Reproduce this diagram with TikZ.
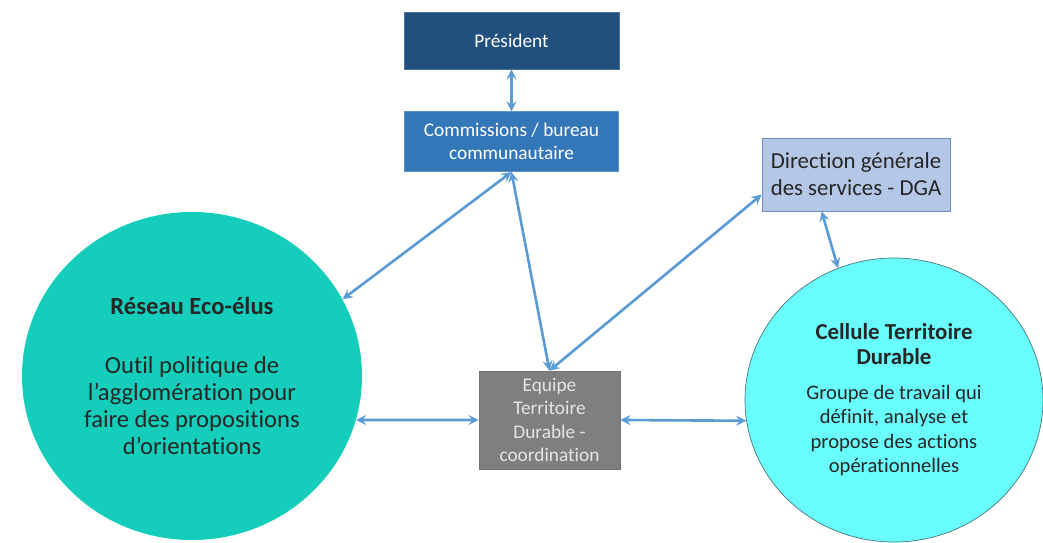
\documentclass[tikz,border=0pt]{standalone}
\usepackage{fontspec}
\setmainfont{Carlito}[Ligatures=NoCommon]
\usetikzlibrary{shapes,arrows,positioning,calc}

\definecolor{presblue}{RGB}{33,80,126}
\definecolor{commblue}{RGB}{52,119,185}
\definecolor{dgablue}{RGB}{180,199,231}
\definecolor{dgaedge}{RGB}{110,140,190}
\definecolor{equipegray}{RGB}{127,127,127}
\definecolor{reseauteal}{RGB}{20,206,187}
\definecolor{cellcyan}{RGB}{104,252,252}
\definecolor{celledge}{RGB}{70,120,125}
\definecolor{linkblue}{RGB}{91,155,213}

\newcommand{\celltitle}[1]{{\fontsize{13}{15}\selectfont\bfseries #1}}

\begin{document}
\begin{tikzpicture}[node distance=2.5cm, auto]

% Define styles
\tikzstyle{presbox} = [rectangle, minimum width=4.3cm, minimum height=1.14cm, text centered, draw=presblue!80!white, fill=presblue, text=white, font=\fontsize{11}{13}\selectfont]
\tikzstyle{commbox} = [rectangle, minimum width=4.28cm, minimum height=1.2cm, align=center, draw=commblue!80!white, fill=commblue, text=white, font=\fontsize{11}{13}\selectfont]
\tikzstyle{dgabox} = [rectangle, minimum width=3.76cm, minimum height=1.46cm, align=center, draw=dgaedge, fill=dgablue, text=black!85, font=\fontsize{13}{15.2}\selectfont]
\tikzstyle{equipebox} = [rectangle, minimum width=2.82cm, minimum height=1.96cm, inner sep=1pt, align=center, draw=equipegray!90!black, fill=equipegray, text=white!90!black, font=\fontsize{11}{13.2}\selectfont]
\tikzstyle{reseaucircle} = [ellipse, minimum width=6.8cm, minimum height=6.56cm, align=center, fill=reseauteal, text=black!85, font=\fontsize{14}{15.4}\selectfont]
\tikzstyle{cellcircle} = [ellipse, minimum width=5.96cm, minimum height=5.68cm, align=center, draw=celledge, fill=cellcyan, text=black!85, font=\fontsize{11.7}{14}\selectfont]
\tikzstyle{link} = [line width=1.5pt, <->, >=stealth, color=linkblue]

\useasboundingbox (0,0) rectangle (20.86,10.84);

% TOP BOXES
\node (pres) [presbox] at (10.23,10.03) {Président};
\node (comm) [commbox, below=0.84cm of pres] {Commissions / bureau\\communautaire};
\node (dga) [dgabox] at (17.12,7.35) {Direction générale\\des services - DGA};

% CENTRE
\node (equipe) [equipebox] at (10.99,2.44) {Equipe\\Territoire\\Durable -\\coordination};

% CIRCLES
\node (reseau) [reseaucircle] at (3.84,3.32) {\textbf{Réseau Eco-élus}\\[0.65cm]Outil politique de\\l’agglomération pour\\faire des propositions\\d’orientations};
\node (cellule) [cellcircle] at (17.88,2.84) {\celltitle{Cellule Territoire}\\\celltitle{Durable}\\[0.2cm]Groupe de travail qui\\définit, analyse et\\propose des actions\\opérationnelles};

% Links
\draw [link] (pres.south) -- (comm.north);
\draw [link] (comm.south) -- (reseau.27);
\draw [link] (comm.south) -- (equipe.north);
\draw [link] (dga.192) -- (equipe.north);
\draw [link] (dga.227) -- (cellule.113);
\draw [link] (reseau.-15) -- (equipe.west);
\draw [link] (equipe.east) -- (cellule.188);

\end{tikzpicture}
\end{document}
